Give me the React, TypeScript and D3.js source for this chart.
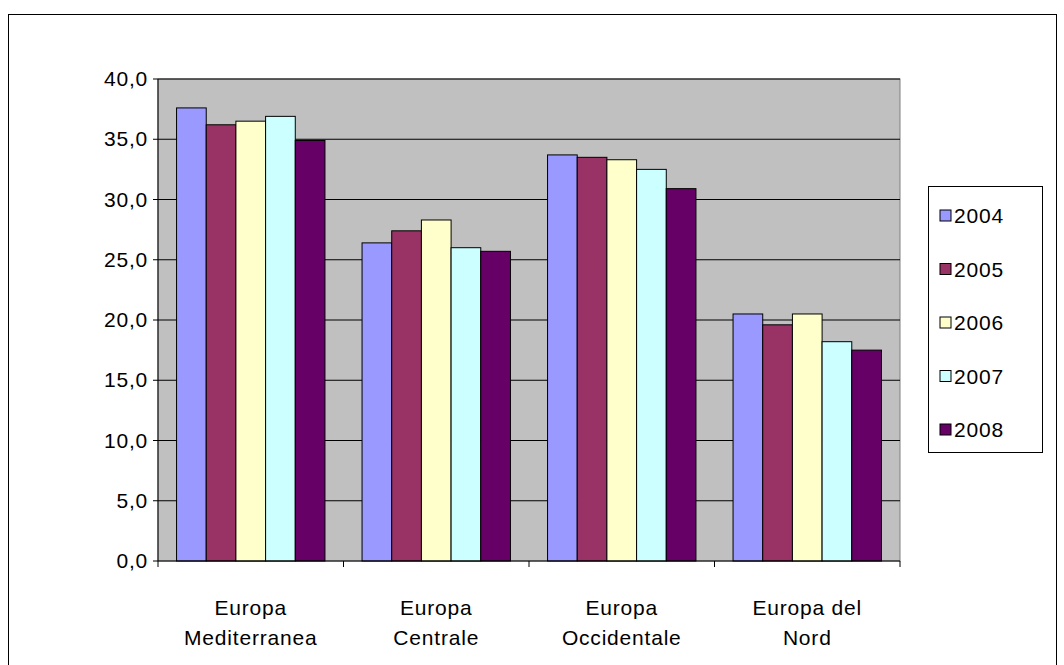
import * as d3 from "d3";

const categories = [["Europa", "Mediterranea"], ["Europa", "Centrale"], ["Europa", "Occidentale"], ["Europa del", "Nord"]];
const years = ["2004", "2005", "2006", "2007", "2008"];
const colors = ["#9999ff", "#993366", "#ffffcc", "#ccffff", "#660066"];
const values = [
  [37.6, 36.2, 36.5, 36.9, 34.9],
  [26.4, 27.4, 28.3, 26.0, 25.7],
  [33.7, 33.5, 33.3, 32.5, 30.9],
  [20.5, 19.6, 20.5, 18.2, 17.5],
];
const yTicks = [0, 5, 10, 15, 20, 25, 30, 35, 40];

const L = 158, R = 900, T = 79, B = 561;

export default function App() {
  const y = d3.scaleLinear().domain([0, 40]).range([B, T]);
  const x0 = d3.scaleBand().domain(categories.map((_, i) => String(i))).range([L, R]).paddingInner(0.2).paddingOuter(0.1);
  const x1 = d3.scaleBand().domain(years).range([0, x0.bandwidth()]);
  const step = (R - L) / categories.length;
  const font = "Arial, 'Liberation Sans', sans-serif";
  const fs = 21;
  const ls = 0.8;
  return (
    <svg width={1064} height={665} style={{ position: "absolute", left: 0, top: 0 }} fontFamily={font}>
      <rect x={0} y={0} width={1064} height={665} fill="#fff" />
      <rect x={8.5} y={14.5} width={1048} height={660} fill="#fff" stroke="#000" />
      <rect x={L} y={T} width={R - L} height={B - T} fill="#c0c0c0" stroke="#808080" />
      {yTicks.slice(1).map((t) => (
        <line key={t} x1={L} x2={R} y1={y(t)} y2={y(t)} stroke="#000" />
      ))}
      {values.map((row, ci) =>
        row.map((v, yi) => (
          <rect key={`${ci}-${yi}`} x={(x0(String(ci)) ?? 0) + (x1(years[yi]) ?? 0)} y={y(v)}
            width={x1.bandwidth()} height={B - y(v)} fill={colors[yi]} stroke="#000" />
        ))
      )}
      <line x1={L} x2={L} y1={T} y2={B} stroke="#000" />
      <line x1={L} x2={R} y1={B} y2={B} stroke="#000" />
      {yTicks.map((t) => (
        <g key={t}>
          <line x1={L - 5} x2={L} y1={y(t)} y2={y(t)} stroke="#000" />
          <text x={L - 10} y={y(t) + 7} fontSize={fs} letterSpacing={ls} textAnchor="end">{t.toFixed(1).replace(".", ",")}</text>
        </g>
      ))}
      {d3.range(categories.length + 1).map((i) => (
        <line key={i} x1={L + i * step} x2={L + i * step} y1={B} y2={B + 6} stroke="#000" />
      ))}
      {categories.map((c, i) => (
        <text key={i} x={L + (i + 0.5) * step} textAnchor="middle" fontSize={fs} letterSpacing={ls}>
          <tspan x={L + (i + 0.5) * step} y={615}>{c[0]}</tspan>
          <tspan x={L + (i + 0.5) * step} y={645}>{c[1]}</tspan>
        </text>
      ))}
      <rect x={928.5} y={186.5} width={114} height={266} fill="#fff" stroke="#000" />
      {years.map((yr, i) => (
        <g key={yr} transform={`translate(940,${216 + i * 53.5})`}>
          <rect x={0} y={-6} width={11} height={11} fill={colors[i]} stroke="#000" />
          <text x={14} y={7} fontSize={fs} letterSpacing={ls}>{yr}</text>
        </g>
      ))}
    </svg>
  );
}
